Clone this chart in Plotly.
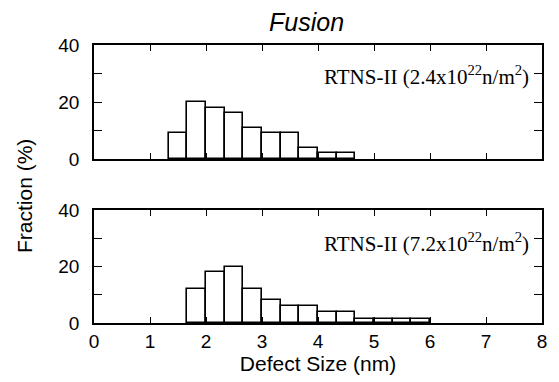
import plotly.graph_objects as go

bin_width = 1/3
top_bin_starts = [4/3, 5/3, 2.0, 7/3, 8/3, 3.0, 10/3, 11/3, 4.0, 13/3]
top_fraction = [9, 20, 18, 16, 11, 9, 9, 4, 2, 2]
bottom_bin_starts = [5/3, 2.0, 7/3, 8/3, 3.0, 10/3, 11/3, 4.0, 13/3, 14/3, 5.0, 16/3, 17/3]
bottom_fraction = [12, 18, 20, 12, 8, 6, 6, 4, 4, 1.5, 1.5, 1.5, 1.5]
x_ticks = [0, 1, 2, 3, 4, 5, 6, 7, 8]
top_label = "RTNS-II (2.4x10<sup>22</sup>n/m<sup>2</sup>)"
bottom_label = "RTNS-II (7.2x10<sup>22</sup>n/m<sup>2</sup>)"

fig = go.Figure()
for starts, vals, xa, ya in [(top_bin_starts, top_fraction, "x", "y"),
                             (bottom_bin_starts, bottom_fraction, "x2", "y2")]:
    fig.add_trace(go.Bar(
        x=[s + bin_width / 2 for s in starts], y=vals, width=bin_width,
        marker=dict(color="white", line=dict(color="black", width=1.6)),
        xaxis=xa, yaxis=ya, showlegend=False))

SANS = "Liberation Sans, Arial"
SERIF = "Liberation Serif, Times New Roman"
axis_font = dict(family=SANS, size=19, color="black")
common_x = dict(range=[0, 8], tickvals=x_ticks, ticks="inside", ticklen=6, tickwidth=1.3,
                showline=True, linewidth=1.8, linecolor="black", mirror="ticks",
                showgrid=False, zeroline=False, tickfont=axis_font, tickcolor="black")
common_y = dict(range=[0, 40], tickvals=[0, 20, 40], ticks="inside", ticklen=8, tickwidth=1.3,
                showline=True, linewidth=1.8, linecolor="black", mirror="ticks",
                showgrid=False, zeroline=False, tickfont=axis_font, tickcolor="black",
                ticklabelstandoff=9,
                minor=dict(tickvals=[10, 30], ticks="inside", ticklen=8, tickwidth=1.3, tickcolor="black"))

H = 278.0
W = 448.0
fig.update_layout(
    width=551, height=374,
    margin=dict(l=86, r=17, t=37, b=59),
    plot_bgcolor="white", paper_bgcolor="white",
    bargap=0,
    xaxis=dict(domain=[0, 1], anchor="y", showticklabels=False, **common_x),
    yaxis=dict(domain=[164 / H, 1], anchor="x", **common_y),
    xaxis2=dict(domain=[0, 1], anchor="y2", **common_x,
                title=dict(text="Defect Size (nm)", font=dict(family=SANS, size=21, color="black"), standoff=2)),
    yaxis2=dict(domain=[0, 113 / H], anchor="x2", **common_y),
    annotations=[
        dict(text="<i>Fusion</i>", xref="paper", yref="paper", x=(306 - 94) / W, y=1 + 23 / H,
             showarrow=False, font=dict(family=SANS, size=25, color="black"),
             xanchor="center", yanchor="middle"),
        dict(text="Fraction (%)", xref="paper", yref="paper", x=(24 - 94) / W, y=(323 - 196) / H, textangle=-90,
             showarrow=False, font=dict(family=SANS, size=21, color="black"),
             xanchor="center", yanchor="middle"),
        dict(text=top_label, xref="paper", yref="paper", x=(531 - 94) / W, y=1 - 30 / H,
             showarrow=False, font=dict(family=SERIF, size=21, color="black"),
             xanchor="right", yanchor="middle"),
        dict(text=bottom_label, xref="paper", yref="paper", x=(531 - 94) / W, y=(323 - 242) / H,
             showarrow=False, font=dict(family=SERIF, size=21, color="black"),
             xanchor="right", yanchor="middle"),
    ],
)
fig.write_html("out.html")
